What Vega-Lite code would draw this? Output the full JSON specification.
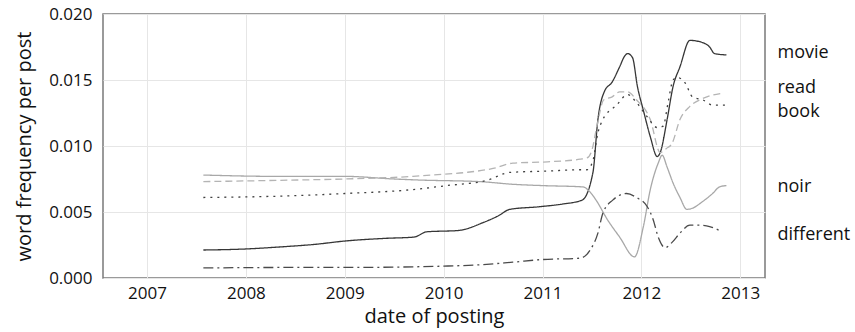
{
"$schema": "https://vega.github.io/schema/vega-lite/v6.json",
"width": 662, "height": 264,
"autosize": {"type": "none"},
"padding": {"left": 103, "top": 14, "right": 90, "bottom": 54},
"background": "white",
"config": {"view": {"stroke": "#7a7a7a", "strokeWidth": 1.5}, "font": "Open Sans"},
"data": {"values": [
{"word":"movie","year":2007.57,"freq":0.00212},{"word":"movie","year":2008.0,"freq":0.0022},{"word":"movie","year":2008.34,"freq":0.00235},{"word":"movie","year":2008.7,"freq":0.00255},{"word":"movie","year":2009.0,"freq":0.0028},{"word":"movie","year":2009.4,"freq":0.003},{"word":"movie","year":2009.7,"freq":0.0031},{"word":"movie","year":2009.83,"freq":0.0035},{"word":"movie","year":2010.15,"freq":0.0036},{"word":"movie","year":2010.4,"freq":0.0042},{"word":"movie","year":2010.55,"freq":0.0047},{"word":"movie","year":2010.67,"freq":0.0052},{"word":"movie","year":2010.97,"freq":0.0054},{"word":"movie","year":2011.2,"freq":0.0056},{"word":"movie","year":2011.4,"freq":0.0059},{"word":"movie","year":2011.51,"freq":0.008},{"word":"movie","year":2011.56,"freq":0.012},{"word":"movie","year":2011.63,"freq":0.0142},{"word":"movie","year":2011.7,"freq":0.0148},{"word":"movie","year":2011.78,"freq":0.016},{"word":"movie","year":2011.83,"freq":0.0168},{"word":"movie","year":2011.86,"freq":0.017},{"word":"movie","year":2011.91,"freq":0.0167},{"word":"movie","year":2011.96,"freq":0.0145},{"word":"movie","year":2012.02,"freq":0.0127},{"word":"movie","year":2012.09,"freq":0.0107},{"word":"movie","year":2012.16,"freq":0.0092},{"word":"movie","year":2012.19,"freq":0.0095},{"word":"movie","year":2012.26,"freq":0.012},{"word":"movie","year":2012.32,"freq":0.0145},{"word":"movie","year":2012.39,"freq":0.016},{"word":"movie","year":2012.49,"freq":0.018},{"word":"movie","year":2012.59,"freq":0.0179},{"word":"movie","year":2012.69,"freq":0.0175},{"word":"movie","year":2012.74,"freq":0.017},{"word":"movie","year":2012.86,"freq":0.0169},
{"word":"noir","year":2007.57,"freq":0.0078},{"word":"noir","year":2008.3,"freq":0.0077},{"word":"noir","year":2009.0,"freq":0.0077},{"word":"noir","year":2009.5,"freq":0.0075},{"word":"noir","year":2009.76,"freq":0.00742},{"word":"noir","year":2010.37,"freq":0.0073},{"word":"noir","year":2010.7,"freq":0.0071},{"word":"noir","year":2011.0,"freq":0.007},{"word":"noir","year":2011.41,"freq":0.0069},{"word":"noir","year":2011.47,"freq":0.0066},{"word":"noir","year":2011.55,"freq":0.0058},{"word":"noir","year":2011.65,"freq":0.0045},{"word":"noir","year":2011.78,"freq":0.0031},{"word":"noir","year":2011.93,"freq":0.0016},{"word":"noir","year":2012.02,"freq":0.0039},{"word":"noir","year":2012.09,"freq":0.0067},{"word":"noir","year":2012.17,"freq":0.0087},{"word":"noir","year":2012.21,"freq":0.0093},{"word":"noir","year":2012.26,"freq":0.0084},{"word":"noir","year":2012.32,"freq":0.0072},{"word":"noir","year":2012.39,"freq":0.0061},{"word":"noir","year":2012.46,"freq":0.0052},{"word":"noir","year":2012.52,"freq":0.0053},{"word":"noir","year":2012.62,"freq":0.0058},{"word":"noir","year":2012.72,"freq":0.0064},{"word":"noir","year":2012.79,"freq":0.0069},{"word":"noir","year":2012.86,"freq":0.007},
{"word":"read","year":2007.57,"freq":0.0073},{"word":"read","year":2008.34,"freq":0.0074},{"word":"read","year":2009.0,"freq":0.0075},{"word":"read","year":2009.69,"freq":0.0077},{"word":"read","year":2009.87,"freq":0.0078},{"word":"read","year":2010.23,"freq":0.008},{"word":"read","year":2010.5,"freq":0.0083},{"word":"read","year":2010.7,"freq":0.0087},{"word":"read","year":2011.05,"freq":0.0088},{"word":"read","year":2011.38,"freq":0.009},{"word":"read","year":2011.45,"freq":0.0091},{"word":"read","year":2011.5,"freq":0.0097},{"word":"read","year":2011.55,"freq":0.0115},{"word":"read","year":2011.62,"freq":0.0135},{"word":"read","year":2011.7,"freq":0.0137},{"word":"read","year":2011.78,"freq":0.0141},{"word":"read","year":2011.86,"freq":0.0141},{"word":"read","year":2011.95,"freq":0.0135},{"word":"read","year":2012.09,"freq":0.012},{"word":"read","year":2012.19,"freq":0.0095},{"word":"read","year":2012.25,"freq":0.0098},{"word":"read","year":2012.31,"freq":0.0102},{"word":"read","year":2012.39,"freq":0.012},{"word":"read","year":2012.49,"freq":0.013},{"word":"read","year":2012.62,"freq":0.0136},{"word":"read","year":2012.82,"freq":0.014},
{"word":"book","year":2007.57,"freq":0.0061},{"word":"book","year":2008.34,"freq":0.0062},{"word":"book","year":2009.0,"freq":0.0064},{"word":"book","year":2009.69,"freq":0.0067},{"word":"book","year":2010.03,"freq":0.007},{"word":"book","year":2010.44,"freq":0.0074},{"word":"book","year":2010.67,"freq":0.008},{"word":"book","year":2011.05,"freq":0.0081},{"word":"book","year":2011.38,"freq":0.0082},{"word":"book","year":2011.45,"freq":0.0082},{"word":"book","year":2011.51,"freq":0.0089},{"word":"book","year":2011.56,"freq":0.011},{"word":"book","year":2011.61,"freq":0.012},{"word":"book","year":2011.75,"freq":0.0131},{"word":"book","year":2011.86,"freq":0.0139},{"word":"book","year":2011.95,"freq":0.0133},{"word":"book","year":2012.06,"freq":0.0122},{"word":"book","year":2012.16,"freq":0.0114},{"word":"book","year":2012.22,"freq":0.0115},{"word":"book","year":2012.27,"freq":0.0133},{"word":"book","year":2012.32,"freq":0.015},{"word":"book","year":2012.36,"freq":0.0152},{"word":"book","year":2012.44,"freq":0.0148},{"word":"book","year":2012.52,"freq":0.0137},{"word":"book","year":2012.62,"freq":0.0135},{"word":"book","year":2012.72,"freq":0.0131},{"word":"book","year":2012.86,"freq":0.0131},
{"word":"different","year":2007.57,"freq":0.00076},{"word":"different","year":2008.5,"freq":0.0008},{"word":"different","year":2009.0,"freq":0.0008},{"word":"different","year":2010.0,"freq":0.0009},{"word":"different","year":2010.37,"freq":0.001},{"word":"different","year":2010.7,"freq":0.0012},{"word":"different","year":2011.0,"freq":0.0014},{"word":"different","year":2011.38,"freq":0.0015},{"word":"different","year":2011.48,"freq":0.0021},{"word":"different","year":2011.56,"freq":0.0034},{"word":"different","year":2011.61,"freq":0.0049},{"word":"different","year":2011.71,"freq":0.0059},{"word":"different","year":2011.85,"freq":0.0064},{"word":"different","year":2011.95,"freq":0.0061},{"word":"different","year":2012.06,"freq":0.0054},{"word":"different","year":2012.12,"freq":0.0044},{"word":"different","year":2012.17,"freq":0.0031},{"word":"different","year":2012.24,"freq":0.0023},{"word":"different","year":2012.31,"freq":0.0027},{"word":"different","year":2012.39,"freq":0.0034},{"word":"different","year":2012.49,"freq":0.004},{"word":"different","year":2012.59,"freq":0.004},{"word":"different","year":2012.69,"freq":0.0039},{"word":"different","year":2012.79,"freq":0.0036}
]},
"resolve": {"axis": {"y": "independent"}},
"layer": [
{"mark": {"type": "line", "interpolate": "monotone", "strokeWidth": 1.3},
 "encoding": {
  "x": {"field": "year", "type": "quantitative",
        "scale": {"domain": [2006.555, 2013.25], "nice": false, "zero": false},
        "axis": {"values": [2007, 2008, 2009, 2010, 2011, 2012, 2013], "format": "d", "title": "date of posting",
                 "grid": true, "gridColor": "#e6e6e6", "domain": false, "ticks": false,
                 "labelFontSize": 17, "labelPadding": 7, "labelColor": "#111",
                 "titleFontSize": 20, "titleFontWeight": "normal", "titleColor": "#111", "titlePadding": 5}},
  "y": {"field": "freq", "type": "quantitative",
        "scale": {"domain": [0, 0.02], "nice": false},
        "axis": {"values": [0, 0.005, 0.01, 0.015, 0.02], "format": ".3f", "title": "word frequency per post",
                 "grid": true, "gridColor": "#e6e6e6", "domain": false, "ticks": false,
                 "labelFontSize": 17, "labelPadding": 11, "labelColor": "#111",
                 "titleFontSize": 20, "titleFontWeight": "normal", "titleColor": "#111", "titlePadding": 14}},
  "color": {"field": "word", "type": "nominal",
            "scale": {"domain": ["movie", "read", "book", "noir", "different"], "range": ["#363636", "#b4b4b4", "#404040", "#a8a8a8", "#4a4a4a"]},
            "legend": null},
  "strokeDash": {"field": "word", "type": "nominal",
                 "scale": {"domain": ["movie", "read", "book", "noir", "different"], "range": [[1, 0], [7, 4], [2, 5], [1, 0], [10, 4, 2, 4]]},
                 "legend": null}
 }},
{"mark": {"type": "line", "strokeOpacity": 0},
 "encoding": {
  "x": {"field": "year", "type": "quantitative", "axis": {"title": "date of posting"}},
  "y": {"field": "freq", "type": "quantitative",
        "axis": {"orient": "right", "values": [0.0171, 0.0144, 0.0126, 0.0069, 0.0033],
                 "labelExpr": "datum.value > 0.016 ? 'movie' : datum.value > 0.0135 ? 'read' : datum.value > 0.01 ? 'book' : datum.value > 0.005 ? 'noir' : 'different'",
                 "title": null, "grid": false, "domain": false, "ticks": false,
                 "labelFontSize": 18, "labelPadding": 12, "labelColor": "#111"}}
 }}
]
}
